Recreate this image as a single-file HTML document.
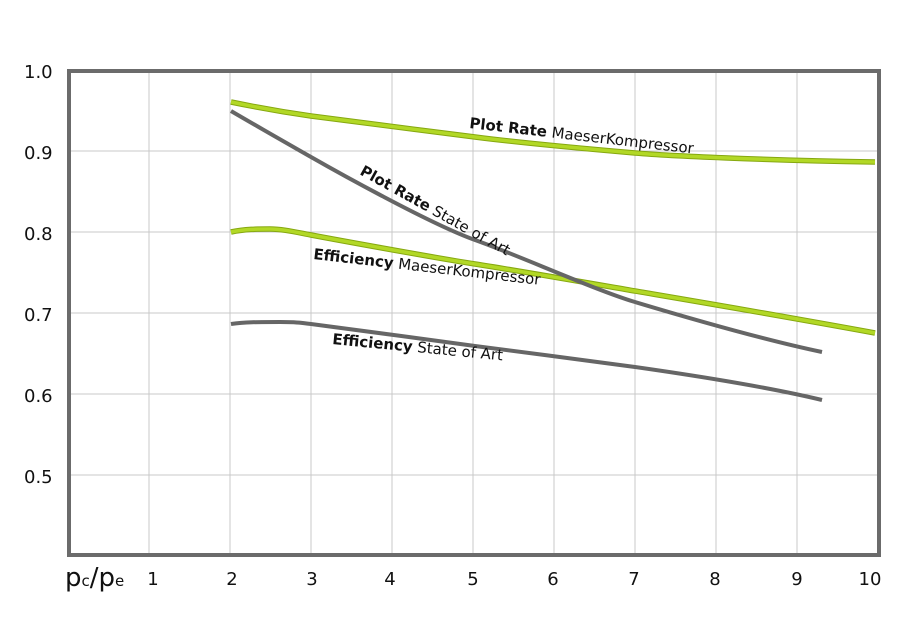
<!DOCTYPE html><html><head><style>body{margin:0;background:#fff}svg{display:block}</style></head><body>
<svg width="900" height="636" xmlns="http://www.w3.org/2000/svg" font-family="DejaVu Sans, Liberation Sans, sans-serif">
<g stroke="#c8c8c8" stroke-width="1">
<line x1="149" y1="70" x2="149" y2="555"/><line x1="230" y1="70" x2="230" y2="555"/><line x1="311" y1="70" x2="311" y2="555"/><line x1="392" y1="70" x2="392" y2="555"/><line x1="473" y1="70" x2="473" y2="555"/><line x1="554" y1="70" x2="554" y2="555"/><line x1="635" y1="70" x2="635" y2="555"/><line x1="716" y1="70" x2="716" y2="555"/><line x1="797" y1="70" x2="797" y2="555"/>
<line x1="68" y1="151" x2="880" y2="151"/><line x1="68" y1="232" x2="880" y2="232"/><line x1="68" y1="313" x2="880" y2="313"/><line x1="68" y1="394" x2="880" y2="394"/><line x1="68" y1="475" x2="880" y2="475"/>
</g>
<rect x="69" y="71" width="810" height="484" fill="none" stroke="#6b6b6b" stroke-width="4"/>
<g fill="none" stroke-linecap="butt">
<path d="M231,102 C260,108 290,113 311,116 S420,130 475,137 S600,150 635,153 S760,160 875,162" stroke="#86a810" stroke-width="5.5"/>
<path d="M231,102 C260,108 290,113 311,116 S420,130 475,137 S600,150 635,153 S760,160 875,162" stroke="#b2d826" stroke-width="3.5"/>
<path d="M231,232 C245,229 258,229 270,229 S295,232 311,235 S430,257 475,264 S600,285 635,291 S760,312 875,333" stroke="#86a810" stroke-width="5.5"/>
<path d="M231,232 C245,229 258,229 270,229 S295,232 311,235 S430,257 475,264 S600,285 635,291 S760,312 875,333" stroke="#b2d826" stroke-width="3.5"/>
<path d="M231,111 C260,128 290,145 311,157 S430,224 475,240 S595,290 635,302 S760,339 822,352" stroke="#666" stroke-width="4"/>
<path d="M231,324 C245,322 258,322 280,322 S300,323 311,324 S430,340 475,346 S600,362 635,367 S760,385 822,400" stroke="#666" stroke-width="4"/>
</g>
<g font-size="15" fill="#111">
<text transform="translate(469,128) rotate(6.5)"><tspan font-weight="bold">Plot Rate</tspan> MaeserKompressor</text>
<text transform="translate(359,174) rotate(29)"><tspan font-weight="bold">Plot Rate</tspan> State of Art</text>
<text transform="translate(313,259) rotate(6.5)"><tspan font-weight="bold">Efficiency</tspan> MaeserKompressor</text>
<text transform="translate(332,344) rotate(5.5)"><tspan font-weight="bold">Efficiency</tspan> State of Art</text>
</g>
<g font-size="18" fill="#111">
<text x="24" y="78">1.0</text><text x="24" y="159">0.9</text><text x="24" y="240">0.8</text><text x="24" y="321">0.7</text><text x="24" y="402">0.6</text><text x="24" y="483">0.5</text>
<g text-anchor="middle"><text x="153" y="585">1</text><text x="232" y="585">2</text><text x="312" y="585">3</text><text x="390" y="585">4</text><text x="473" y="585">5</text><text x="553" y="585">6</text><text x="634" y="585">7</text><text x="715" y="585">8</text><text x="797" y="585">9</text><text x="870" y="585">10</text></g>
<text x="65" y="586" font-size="26">p<tspan font-size="15">c</tspan>/p<tspan font-size="15">e</tspan></text>
</g>
</svg></body></html>
